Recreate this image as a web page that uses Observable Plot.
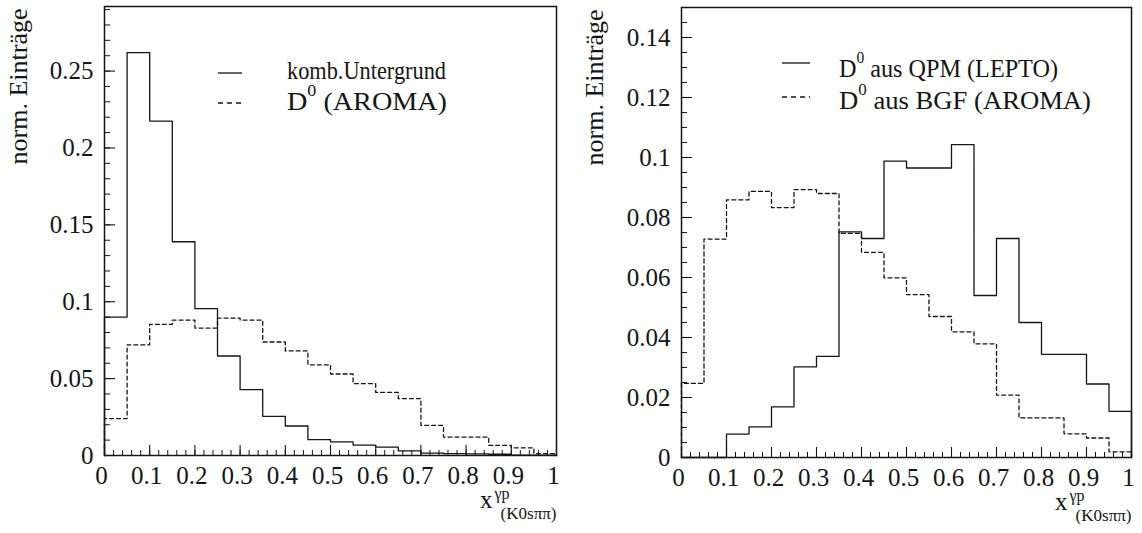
<!DOCTYPE html>
<html><head><meta charset="utf-8">
<script src="https://cdn.jsdelivr.net/npm/d3@7"></script>
<script src="https://cdn.jsdelivr.net/npm/@observablehq/plot@0.6"></script>
<style>
body{margin:0;background:#fff;}
#wrap{display:flex;width:1142px;height:533px;background:#fff;}
#wrap svg{display:block;}
</style></head><body><div id="wrap"></div>
<script>
// ---- data ----
const binEdges = [0,0.05,0.1,0.15,0.2,0.25,0.3,0.35,0.4,0.45,0.5,0.55,0.6,0.65,0.7,0.75,0.8,0.85,0.9,0.95];
const binWidth = 0.05;
const leftBackground = [0.090,0.262,0.2175,0.139,0.0955,0.0647,0.0428,0.0255,0.0192,0.0103,0.0088,0.0068,0.0055,0.003,0.0015,0.0012,0.001,0.0008,0.0003,0.0002];
const leftAroma      = [0.024,0.072,0.0853,0.0881,0.0829,0.0894,0.0881,0.0738,0.068,0.059,0.053,0.0467,0.041,0.037,0.0196,0.012,0.012,0.0066,0.005,0.0012];
const rightQpm       = [0,0,0.0078,0.0102,0.0169,0.0302,0.0337,0.0752,0.073,0.0988,0.0965,0.0965,0.1043,0.054,0.073,0.045,0.0344,0.0344,0.0245,0.0154];
const rightBgf       = [0.0247,0.0728,0.0859,0.0887,0.0833,0.0893,0.088,0.0747,0.0684,0.0599,0.0543,0.047,0.0419,0.0379,0.0208,0.0132,0.0132,0.0079,0.0065,0.0019];

const xMajorTicks = [0,0.1,0.2,0.3,0.4,0.5,0.6,0.7,0.8,0.9,1];
const xMinorTicks = d3.range(0, 1.0001, 0.02);
const leftYMajor = [0,0.05,0.1,0.15,0.2,0.25];
const leftYMinor = d3.range(0, 0.2901, 0.01);
const rightYMajor = [0,0.02,0.04,0.06,0.08,0.1,0.12,0.14];
const rightYMinor = d3.range(0, 0.1451, 0.005);

const yTitle = "norm. Einträge";
const xTitleMain = "x";
const xTitleSup = "γp";
const xTitleSub = "(K0sππ)";
const leftLegend = ["komb.Untergrund", "D^0 (AROMA)"];
const rightLegend = ["D^0 aus QPM (LEPTO)", "D^0 aus BGF (AROMA)"];

// ---- helpers ----
const FONT = '"Liberation Serif", "Times New Roman", Times, serif';
const INK = "#151515";

function stepPoints(values) {
  const end = binEdges[binEdges.length - 1] + binWidth;
  const pts = [{x: binEdges[0], y: 0}];
  values.forEach((v, i) => pts.push({x: binEdges[i], y: v}));
  pts.push({x: end, y: values[values.length - 1]});
  pts.push({x: end, y: 0});
  return pts;
}

function legendMark(rows, lay) {
  return () => {
    const g = d3.create("svg:g").attr("font-family", FONT).attr("font-size", 25)
      .attr("fill", INK).attr("text-anchor", "start");
    rows.forEach((label, i) => {
      const base = lay.baseline[i];
      g.append("line")
        .attr("x1", lay.lineX1).attr("x2", lay.lineX2)
        .attr("y1", lay.lineY[i]).attr("y2", lay.lineY[i])
        .attr("stroke", INK).attr("stroke-width", 1.3)
        .attr("stroke-dasharray", i === 1 ? "5,4" : null);
      const t = g.append("text").attr("x", lay.textX).attr("y", base)
        .attr("textLength", lay.textLen[i]).attr("lengthAdjust", "spacingAndGlyphs");
      const m = label.match(/^(.*?)\^(\S)(.*)$/);
      if (m) {
        t.append("tspan").text(m[1]);
        t.append("tspan").attr("font-size", 16).attr("dy", -14).text(m[2]);
        t.append("tspan").attr("dy", 14).text(m[3]);
      } else {
        t.text(label);
      }
    });
    return g.node();
  };
}

function panel(o) {
  const W = 571, H = 533;
  const innerW = W - o.ml - o.mr, innerH = H - o.mt - o.mb;
  return Plot.plot({
    width: W, height: H,
    marginLeft: o.ml, marginRight: o.mr, marginTop: o.mt, marginBottom: o.mb,
    style: {fontFamily: FONT, fontSize: "25px", background: "white", color: INK},
    x: {domain: [0, 1]},
    y: {domain: o.yDomain},
    marks: [
      Plot.tickX(xMinorTicks, {x: d => d, insetTop: innerH - 5, stroke: INK, strokeWidth: 1}),
      Plot.tickX(xMajorTicks, {x: d => d, insetTop: innerH - 10, stroke: INK, strokeWidth: 1.1}),
      Plot.tickY(o.yMinor, {y: d => d, insetRight: innerW - 6, stroke: INK, strokeWidth: 1}),
      Plot.tickY(o.yMajor, {y: d => d, insetRight: innerW - 11, stroke: INK, strokeWidth: 1.1}),
      Plot.axisX({ticks: xMajorTicks, tickSize: 0, tickPadding: 11, tickFormat: d => String(d), dx: -3, fill: INK, label: null}),
      Plot.axisY({ticks: o.yMajor, tickSize: 0, tickPadding: 11, tickFormat: d => String(d), fill: INK, label: null}),
      Plot.line(stepPoints(o.dashed), {x: "x", y: "y", curve: "step-after", stroke: INK, strokeWidth: 1.3, strokeDasharray: "4,3"}),
      Plot.line(stepPoints(o.solid), {x: "x", y: "y", curve: "step-after", stroke: INK, strokeWidth: 1.3}),
      Plot.frame({stroke: INK, strokeWidth: 1.5}),
      Plot.text([yTitle], {frameAnchor: "top-left", rotate: -90, textAnchor: "end", dx: o.yTitleDx, dy: 2, fontSize: 26, fill: INK}),
      Plot.text([xTitleMain], {frameAnchor: "bottom-right", textAnchor: "end", dx: -64, dy: 52, fontSize: 25, fill: INK}),
      Plot.text([xTitleSup], {frameAnchor: "bottom-right", textAnchor: "start", dx: -62, dy: 43, fontSize: 16, fill: INK}),
      Plot.text([xTitleSub], {frameAnchor: "bottom-right", textAnchor: "end", dx: 0, dy: 63, fontSize: 17, fill: INK}),
      legendMark(o.legend, o.legendLayout)
    ]
  });
}

const wrap = document.getElementById("wrap");
wrap.appendChild(panel({
  ml: 104, mr: 15, mt: 6, mb: 78,
  yDomain: [0, 0.292], yMajor: leftYMajor, yMinor: leftYMinor,
  solid: leftBackground, dashed: leftAroma, yTitleDx: -96,
  legend: leftLegend,
  legendLayout: {lineX1: 218, lineX2: 242, lineY: [73, 103], textX: 287, baseline: [79, 110], textLen: [159, 160]}
}));
wrap.appendChild(panel({
  ml: 110, mr: 11, mt: 7, mb: 76,
  yDomain: [0, 0.150], yMajor: rightYMajor, yMinor: rightYMinor,
  solid: rightQpm, dashed: rightBgf, yTitleDx: -97,
  legend: rightLegend,
  legendLayout: {lineX1: 211, lineX2: 239, lineY: [63, 97], textX: 268, baseline: [77, 109], textLen: [219, 252]}
}));
</script>
</body></html>
